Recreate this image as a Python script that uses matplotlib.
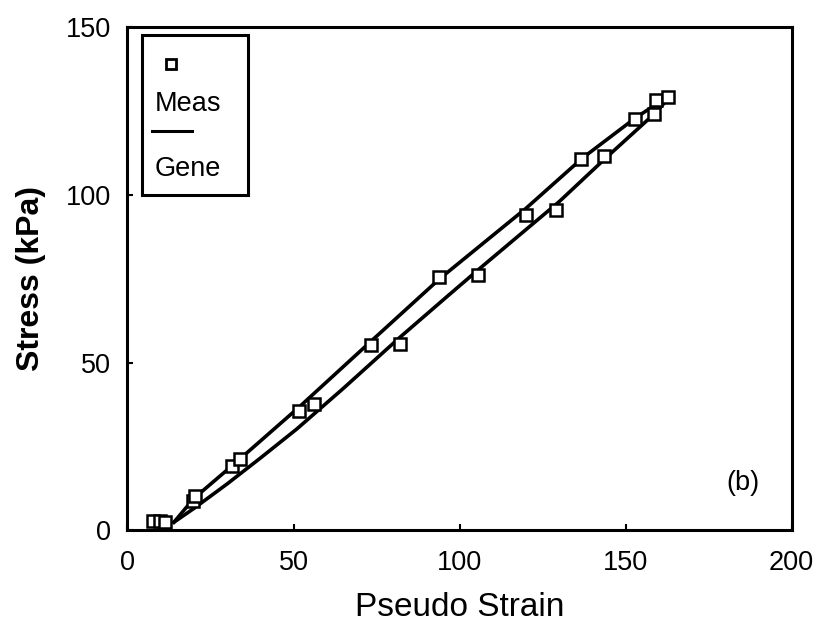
import matplotlib.pyplot as plt
from matplotlib.patches import Rectangle

plt.rcParams['font.family'] = ['Liberation Sans', 'DejaVu Sans']

# measured points
meas_strain = [7.8, 9.8, 11.4, 19.7, 20.3, 31.6, 33.8, 51.7, 56.3, 73.4, 82.2,
               93.9, 105.5, 120.0, 129.0, 136.6, 143.4, 152.7, 158.6, 159.0, 162.8]
meas_stress = [2.8, 2.7, 2.6, 8.7, 10.2, 19.2, 21.3, 35.5, 37.5, 55.3, 55.6,
               75.4, 76.2, 94.0, 95.6, 110.8, 111.5, 122.6, 124.0, 128.2, 129.2]

# generated curves (upper and lower branch)
gene_up_strain = [14, 20, 33, 52, 73.5, 94, 120, 137, 153, 163]
gene_up_stress = [2.4, 9.5, 20.5, 37.0, 56.5, 75.0, 96.0, 111.0, 123.0, 129.5]
gene_lo_strain = [14, 20, 30, 40, 51, 65, 82, 96, 106, 130, 144, 159, 163.5]
gene_lo_stress = [2.4, 6.5, 13.8, 21.5, 30.2, 42.3, 57.5, 69.5, 78.0, 98.0, 111.0, 124.5, 129.5]

xticks = [0, 50, 100, 150, 200]
yticks = [0, 50, 100, 150]

fig = plt.figure(figsize=(8.17, 6.35), dpi=100)
ax = fig.add_axes([0.156, 0.165, 0.813, 0.792])

ax.plot(gene_up_strain, gene_up_stress, color='black', linewidth=2.6, zorder=2)
ax.plot(gene_lo_strain, gene_lo_stress, color='black', linewidth=2.6, zorder=2)
ax.plot(meas_strain, meas_stress, linestyle='none', marker='s', markersize=9,
        markerfacecolor='white', markeredgecolor='black', markeredgewidth=1.8, zorder=3)

ax.set_xlim(0, 200)
ax.set_ylim(0, 150)
ax.set_xticks(xticks)
ax.set_yticks(yticks)
ax.tick_params(direction='in', length=4, width=1.5, labelsize=19.5)
ax.tick_params(axis='x', pad=14)
ax.tick_params(axis='y', pad=12)
for s in ax.spines.values():
    s.set_linewidth(2.2)

ax.set_xlabel('Pseudo Strain', fontsize=24, labelpad=12)
ax.set_ylabel('Stress (kPa)', fontsize=23, fontweight='bold', labelpad=14)

# legend drawn by hand (stacked layout)
ax.add_patch(Rectangle((0.022, 0.666), 0.159, 0.318, transform=ax.transAxes,
                       fill=False, edgecolor='black', linewidth=2.2, zorder=5))
ax.plot([0.066], [0.928], transform=ax.transAxes, marker='s', markersize=7,
        markerfacecolor='white', markeredgecolor='black', markeredgewidth=2,
        linestyle='none', zorder=5)
ax.text(0.041, 0.848, 'Meas', transform=ax.transAxes, fontsize=19.5, va='center', ha='left')
ax.plot([0.037, 0.097], [0.793, 0.793], transform=ax.transAxes, color='black', linewidth=2.2)
ax.text(0.041, 0.719, 'Gene', transform=ax.transAxes, fontsize=19.5, va='center', ha='left')

ax.text(0.927, 0.093, '(b)', transform=ax.transAxes, fontsize=19.5, ha='center', va='center')

fig.savefig('out.png', dpi=100)
